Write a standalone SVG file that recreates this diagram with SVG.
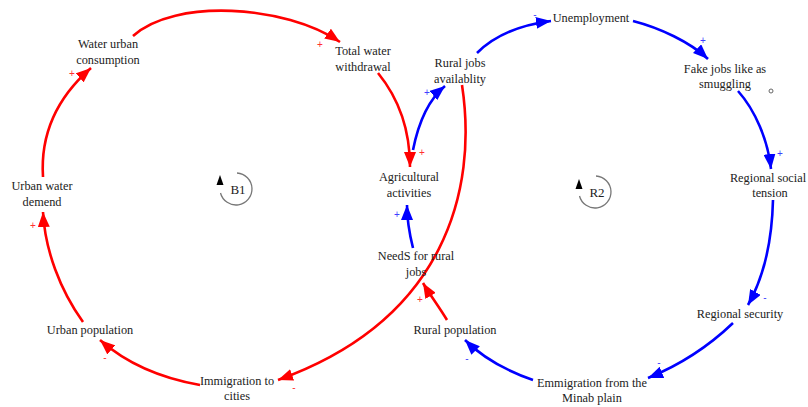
<svg xmlns="http://www.w3.org/2000/svg" width="808" height="407" viewBox="0 0 808 407">
<style>
text.lbl{font-family:'Liberation Serif', 'Times New Roman', Times, serif;font-size:12.3px;fill:#222;text-anchor:middle}
.r{fill:none;stroke:#ff0000;stroke-width:2.6;marker-end:url(#ar)}
.b{fill:none;stroke:#0000ff;stroke-width:2.6;marker-end:url(#ab)}
.pr{font-family:'Liberation Sans', Arial, sans-serif;font-size:10px;fill:#ff3030;text-anchor:middle}
.pb{font-family:'Liberation Sans', Arial, sans-serif;font-size:10px;fill:#4040ff;text-anchor:middle}
.loop{fill:none;stroke:#777;stroke-width:1.3}
text.lt{font-family:'Liberation Serif', 'Times New Roman', Times, serif;font-size:13px;fill:#222;text-anchor:middle}
</style>
<defs>
<marker id="ar" markerUnits="userSpaceOnUse" markerWidth="16" markerHeight="12" refX="15" refY="6" orient="auto"><path d="M0,0 L15,6 L0,12 z" fill="#ff0000"/></marker>
<marker id="ab" markerUnits="userSpaceOnUse" markerWidth="16" markerHeight="12" refX="15" refY="6" orient="auto"><path d="M0,0 L15,6 L0,12 z" fill="#0000ff"/></marker>
</defs>
<rect width="808" height="407" fill="#fff"/>
<g id="connectors">
<path class="r" d="M133,36 C175,-2 285,5 340,42"/>
<path class="r" d="M378,73 C400,100 410,130 410,167"/>
<path class="r" d="M462,85 C478,190 445,320 278,380"/>
<path class="r" d="M447,320 C438,305 430,295 423,283"/>
<path class="r" d="M200,385 C160,378 125,362 100,340"/>
<path class="r" d="M83,322 C60,290 45,250 43,212"/>
<path class="r" d="M43,177 C40,130 60,95 91,68"/>
<path class="b" d="M413,150 C418,125 428,100 445,86"/>
<path class="b" d="M477,53 C495,35 520,25 551,21"/>
<path class="b" d="M633,21 C660,28 690,42 708,59"/>
<path class="b" d="M738,91 C755,110 768,140 771,169"/>
<path class="b" d="M773,200 C772,240 765,275 748,305"/>
<path class="b" d="M733,323 C710,345 680,365 648,378"/>
<path class="b" d="M533,380 C510,372 485,360 465,340"/>
<path class="b" d="M413,248 C409,232 407,220 407,205"/>
<text class="pr" x="320" y="48">+</text>
<text class="pr" x="422" y="156">+</text>
<text class="pr" x="72" y="77">+</text>
<text class="pr" x="33" y="229">+</text>
<text class="pr" x="105" y="361">-</text>
<text class="pr" x="294" y="391">-</text>
<text class="pr" x="420" y="303">+</text>
<text class="pb" x="427" y="96">+</text>
<text class="pb" x="535" y="18">-</text>
<text class="pb" x="703" y="44">+</text>
<text class="pb" x="780" y="157">+</text>
<text class="pb" x="765" y="301">-</text>
<text class="pb" x="659" y="366">-</text>
<text class="pb" x="467" y="362">-</text>
<text class="pb" x="397" y="218">+</text>
</g>
<g id="water-urban-consumption" font-family="Liberation Serif"><text class="lbl" x="108" y="48">Water urban</text><text class="lbl" x="108" y="64">consumption</text></g>
<g id="total-water-withdrawal"><text class="lbl" x="363" y="55">Total water</text><text class="lbl" x="363" y="71">withdrawal</text></g>
<g id="rural-jobs-availablity"><text class="lbl" x="460" y="67">Rural jobs</text><text class="lbl" x="460" y="83">availablity</text></g>
<g id="unemployment"><text class="lbl" x="591" y="22">Unemployment</text></g>
<g id="fake-jobs"><text class="lbl" x="725" y="73">Fake jobs like as</text><text class="lbl" x="725" y="88">smuggling</text><circle cx="771" cy="91" r="2" fill="none" stroke="#666" stroke-width="1"/></g>
<g id="regional-social-tension"><text class="lbl" x="768" y="182">Regional social</text><text class="lbl" x="770" y="197">tension</text></g>
<g id="regional-security"><text class="lbl" x="740" y="318">Regional security</text></g>
<g id="emmigration"><text class="lbl" x="592" y="387">Emmigration from the</text><text class="lbl" x="592" y="402">Minab plain</text></g>
<g id="rural-population"><text class="lbl" x="455" y="334">Rural population</text></g>
<g id="needs-for-rural-jobs"><text class="lbl" x="416" y="260">NeedS for rural</text><text class="lbl" x="416" y="276">jobs</text></g>
<g id="agricultural-activities"><text class="lbl" x="409" y="181">Agricultural</text><text class="lbl" x="409" y="197">activities</text></g>
<g id="urban-water-demend"><text class="lbl" x="42" y="190">Urban water</text><text class="lbl" x="42" y="206">demend</text></g>
<g id="urban-population"><text class="lbl" x="90" y="334">Urban population</text></g>
<g id="immigration-to-cities"><text class="lbl" x="237" y="385">Immigration to</text><text class="lbl" x="237" y="400">cities</text></g>
<g id="loop-B1"><path class="loop" d="M237,173 A16,16 0 1 1 220.5,193"/><path d="M220,175 L216.5,185 L223.5,185 z" fill="#000"/><text class="lt" x="238" y="194">B1</text></g>
<g id="loop-R2"><path class="loop" d="M596,176 A16,16 0 1 1 579.5,196"/><path d="M579,179 L575.5,189 L582.5,189 z" fill="#000"/><text class="lt" x="597" y="197">R2</text></g>
</svg>
